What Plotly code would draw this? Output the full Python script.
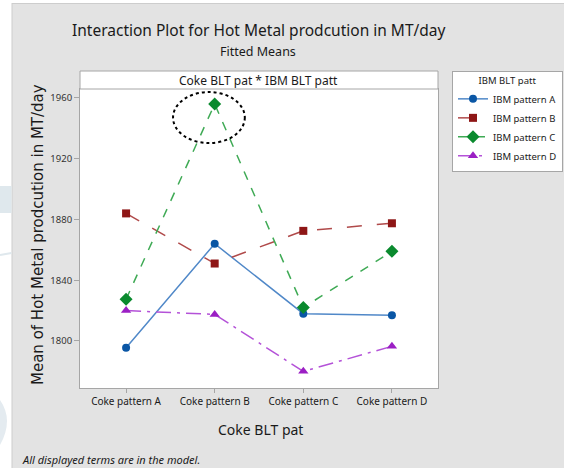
import plotly.graph_objects as go

# Fitted means for each combination of coke and IBM blending pattern
coke_patterns = ["Coke pattern A", "Coke pattern B", "Coke pattern C", "Coke pattern D"]
ibm_a = [1795.5, 1864.0, 1818.0, 1817.0]
ibm_b = [1884.0, 1851.0, 1872.5, 1877.5]
ibm_c = [1827.5, 1956.0, 1822.0, 1859.0]
ibm_d = [1820.0, 1817.5, 1780.0, 1796.5]
y_ticks = [1800, 1840, 1880, 1920, 1960]

series = [
    ("IBM pattern A", ibm_a, "#0A56A5", "#5088C8", "solid", "circle", 8),
    ("IBM pattern B", ibm_b, "#8E1616", "#B04A4A", "longdash", "square", 8),
    ("IBM pattern C", ibm_c, "#0A8A2E", "#3FAA55", "dash", "diamond", 10),
    ("IBM pattern D", ibm_d, "#9B1FC4", "#B452D8", "longdashdot", "triangle-up", 9),
]

W, H = 564, 468
L, R, T, B = 80, 438, 89, 388


def px(x):
    return (x - L) / (R - L)


def py(y):
    return (B - y) / (B - T)


fig = go.Figure()
for name, vals, mcol, lcol, dash, sym, size in series:
    fig.add_trace(go.Scatter(
        x=coke_patterns, y=vals, name=name, mode="lines+markers",
        line=dict(color=lcol, width=1.5, dash=dash),
        marker=dict(color=mcol, symbol=sym, size=size),
    ))

shapes = [
    # white margin strips around the grey panel
    dict(type="rect", xref="paper", yref="paper", x0=px(-5), x1=px(12), y0=py(-5), y1=py(475),
         fillcolor="white", line=dict(width=0), layer="below"),
    dict(type="rect", xref="paper", yref="paper", x0=px(-5), x1=px(570), y0=py(-5), y1=py(3),
         fillcolor="white", line=dict(width=0), layer="below"),
    dict(type="line", xref="paper", yref="paper", x0=px(12), x1=px(12), y0=py(3), y1=py(470),
         line=dict(color="#CDCDCD", width=1), layer="below"),
    dict(type="line", xref="paper", yref="paper", x0=px(12), x1=px(570), y0=py(3.5), y1=py(3.5),
         line=dict(color="#CDCDCD", width=1), layer="below"),
    # faint watermark pieces in the left margin
    dict(type="rect", xref="paper", yref="paper", x0=px(0), x1=px(11.5), y0=py(213), y1=py(186),
         fillcolor="#DFE8ED", line=dict(width=0), layer="below"),
    dict(type="line", xref="paper", yref="paper", x0=px(0), x1=px(11.5), y0=py(255), y1=py(253),
         line=dict(color="#DFE8ED", width=2), layer="below"),
    dict(type="path", xref="paper", yref="paper",
         path=f"M {px(0)},{py(400)} Q {px(14)},{py(420)} {px(0)},{py(445)} Z",
         fillcolor="#E4EBF0", line=dict(width=0), layer="below"),
    # plot area background
    dict(type="rect", xref="paper", yref="paper", x0=0, x1=1, y0=0, y1=1,
         fillcolor="white", line=dict(width=0), layer="below"),
    # facet strip above the plot
    dict(type="rect", xref="paper", yref="paper", x0=0, x1=1, y0=1, y1=py(71),
         fillcolor="white", line=dict(color="#A6A6A6", width=1)),
]

# dotted ring around the peak of IBM pattern C
peak_i = ibm_c.index(max(ibm_c))
peak_v = ibm_c[peak_i]
shapes.append(dict(type="circle", xref="x", yref="y",
                   x0=peak_i - 0.47, x1=peak_i + 0.34,
                   y0=peak_v - 25.7, y1=peak_v + 7.9,
                   line=dict(color="black", width=2, dash="dot")))

main_font = "Noto Sans"
annotations = [
    dict(text="Interaction Plot for Hot Metal prodcution in MT/day", x=px(259), y=py(30),
         font=dict(size=15.5, color="#1A1A1A", family=main_font)),
    dict(text="Fitted Means", x=px(258), y=py(51),
         font=dict(size=12.5, color="#1A1A1A", family=main_font)),
    dict(text="Coke BLT pat * IBM BLT patt", x=px(258), y=py(80.5),
         font=dict(size=12, color="#1A1A1A", family=main_font)),
    dict(text="Mean of Hot Metal prodcution in MT/day", x=px(38), y=py(235), textangle=-90,
         font=dict(size=15, color="#1A1A1A", family="DejaVu Sans")),
    dict(text="Coke BLT pat", x=px(260), y=py(429),
         font=dict(size=14, color="#1A1A1A", family=main_font)),
    dict(text="<i>All displayed terms are in the model.</i>", x=px(20), y=py(459), xanchor="left",
         font=dict(size=11, color="#1A1A1A", family=main_font)),
]
for a in annotations:
    a.setdefault("xanchor", "center")
    a.update(xref="paper", yref="paper", yanchor="middle", showarrow=False)

fig.update_layout(
    width=W, height=H, autosize=False,
    margin=dict(l=L, r=W - R, t=T, b=H - B, pad=0, autoexpand=False),
    paper_bgcolor="#E3E3E3", plot_bgcolor="white",
    font=dict(family=main_font, size=10, color="#333333"),
    shapes=shapes, annotations=annotations,
    showlegend=True,
    legend=dict(
        x=px(452), y=py(71), xanchor="left", yanchor="top",
        bgcolor="white", bordercolor="#A6A6A6", borderwidth=1,
        font=dict(size=9.5, color="#1A1A1A", family=main_font),
        title=dict(text="IBM BLT patt", side="top center",
                   font=dict(size=9.5, color="#1A1A1A", family=main_font)),
        tracegroupgap=0, itemwidth=30,
    ),
    xaxis=dict(
        type="category", range=[-0.52, 3.52], showgrid=False, zeroline=False,
        showline=True, mirror=True, linecolor="#A6A6A6", linewidth=1,
        ticks="outside", ticklen=4, tickcolor="#A6A6A6",
        tickfont=dict(size=10, color="#1A1A1A"),
    ),
    yaxis=dict(
        range=[1769.05, 1965.9], tickvals=y_ticks, showgrid=False, zeroline=False,
        showline=True, mirror=True, linecolor="#A6A6A6", linewidth=1,
        ticks="outside", ticklen=5, tickcolor="#A6A6A6",
        tickfont=dict(size=9.5, color="#333333"),
    ),
)

fig.write_html("out.html")
